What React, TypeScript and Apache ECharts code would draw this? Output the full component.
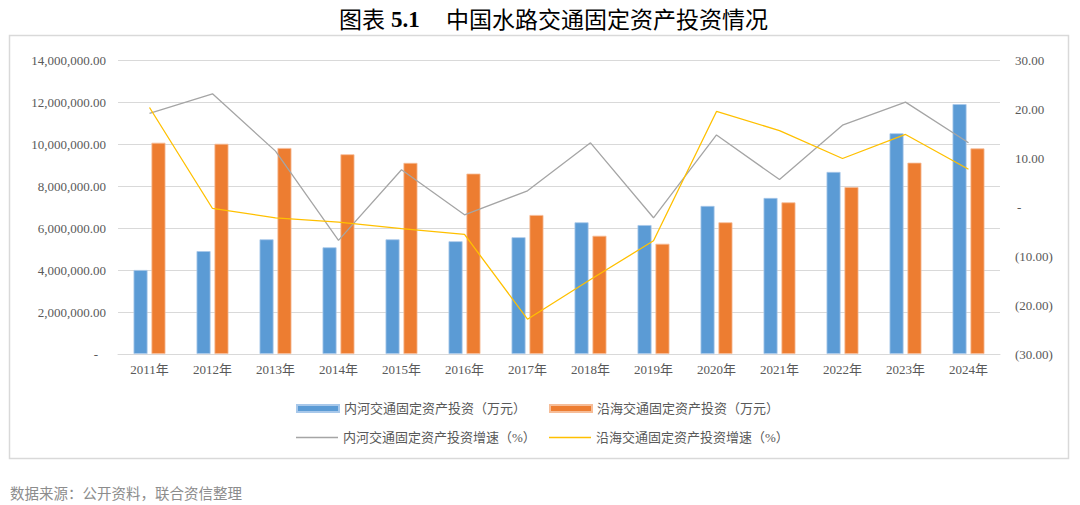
import React, { useEffect, useRef } from "react";
import * as echarts from "echarts";

// Categories and series values
const years = ["2011年", "2012年", "2013年", "2014年", "2015年", "2016年", "2017年", "2018年", "2019年", "2020年", "2021年", "2022年", "2023年", "2024年"];
const inlandInvest = [4000000, 4900000, 5460000, 5080000, 5460000, 5370000, 5560000, 6270000, 6140000, 7050000, 7430000, 8670000, 10510000, 11900000];
const coastalInvest = [10060000, 10010000, 9810000, 9510000, 9100000, 8590000, 6620000, 5630000, 5250000, 6270000, 7220000, 7950000, 9110000, 9790000];
const inlandGrowth = [19.1, 23.1, 11.4, -6.8, 7.6, -1.6, 3.3, 13.1, -2.2, 14.7, 5.6, 16.7, 21.4, 13.1];
const coastalGrowth = [20.3, -0.3, -2.2, -3.1, -4.4, -5.6, -22.9, -14.8, -6.9, 19.5, 15.6, 9.9, 14.8, 7.7];

const seriesNames = [
  "内河交通固定资产投资（万元）",
  "沿海交通固定资产投资（万元）",
  "内河交通固定资产投资增速（%）",
  "沿海交通固定资产投资增速（%）",
];

const FONT = "'Liberation Serif', 'Noto Sans CJK SC', serif";
const CJK = "'Noto Sans CJK SC', sans-serif";
const LABEL = "#595959";
const GRID = "#d9d9d9";

export default function App() {
  const ref = useRef<HTMLDivElement>(null);

  useEffect(() => {
    if (!ref.current) return;
    const chart = echarts.init(ref.current, null, { renderer: "svg" });

    const legendBase = {
      itemWidth: 42,
      textStyle: { color: LABEL, fontSize: 13, fontFamily: FONT },
      itemGap: 5,
    };

    chart.setOption({
      animation: false,
      backgroundColor: "#ffffff",
      textStyle: { fontFamily: FONT },
      grid: { left: 118, right: 80, top: 60, bottom: 151, containLabel: false },
      legend: [
        { ...legendBase, itemHeight: 7, left: 291, top: 397, data: [{ name: seriesNames[0], icon: "rect" }] },
        { ...legendBase, itemHeight: 7, left: 544, top: 397, data: [{ name: seriesNames[1], icon: "rect" }] },
        { ...legendBase, itemHeight: 1.5, left: 291, top: 426, data: [{ name: seriesNames[2], icon: "rect" }] },
        { ...legendBase, itemHeight: 1.5, left: 544, top: 426, data: [{ name: seriesNames[3], icon: "rect" }] },
      ],
      xAxis: {
        type: "category",
        data: years,
        axisLine: { lineStyle: { color: GRID, width: 1 } },
        axisTick: { show: false },
        axisLabel: { color: LABEL, fontSize: 13, margin: 9, fontFamily: FONT },
      },
      yAxis: [
        {
          type: "value",
          min: 0,
          max: 14000000,
          interval: 2000000,
          axisLine: { show: false },
          axisTick: { show: false },
          splitLine: { lineStyle: { color: GRID, width: 1 } },
          axisLabel: {
            color: LABEL,
            fontSize: 13,
            margin: 12,
            fontFamily: FONT,
            formatter: (v: number) =>
              v === 0
                ? "{d|-}"
                : v.toLocaleString("en-US", { minimumFractionDigits: 2, maximumFractionDigits: 2 }),
            rich: { d: { color: LABEL, fontSize: 13, fontFamily: FONT, padding: [0, 8, 0, 0] } },
          },
        },
        {
          type: "value",
          min: -30,
          max: 30,
          interval: 10,
          axisLine: { show: false },
          axisTick: { show: false },
          splitLine: { show: false },
          axisLabel: {
            color: LABEL,
            fontSize: 13,
            margin: 15,
            fontFamily: FONT,
            formatter: (v: number) =>
              v === 0 ? "{d|-}" : v < 0 ? `(${Math.abs(v).toFixed(2)})` : v.toFixed(2),
            rich: { d: { color: LABEL, fontSize: 13, fontFamily: FONT, padding: [0, 0, 0, 2] } },
          },
        },
      ],
      series: [
        {
          name: seriesNames[0],
          type: "bar",
          data: inlandInvest,
          barWidth: 14,
          barGap: "28%",
          itemStyle: { color: "#5b9bd5", borderColor: "#a8c8ea", borderWidth: 0.8 },
        },
        {
          name: seriesNames[1],
          type: "bar",
          data: coastalInvest,
          barWidth: 14,
          barGap: "28%",
          itemStyle: { color: "#ed7d31", borderColor: "#f6bd98", borderWidth: 0.8 },
        },
        {
          name: seriesNames[2],
          type: "line",
          yAxisIndex: 1,
          data: inlandGrowth,
          symbol: "none",
          lineStyle: { color: "#a5a5a5", width: 1.3 },
          itemStyle: { color: "#a5a5a5" },
        },
        {
          name: seriesNames[3],
          type: "line",
          yAxisIndex: 1,
          data: coastalGrowth,
          symbol: "none",
          lineStyle: { color: "#ffc000", width: 1.3 },
          itemStyle: { color: "#ffc000" },
        },
      ],
      graphic: [
        {
          type: "rect",
          z: -10,
          shape: { x: 9.5, y: 35.5, width: 1059, height: 423 },
          style: { fill: "none", stroke: GRID, lineWidth: 1.5 },
        },
        {
          type: "text",
          x: 339,
          y: 18,
          style: { text: "图表", fontSize: 23, fontFamily: CJK, fill: "#000", verticalAlign: "middle" },
        },
        {
          type: "text",
          x: 391,
          y: 19,
          style: { text: "5.1", fontSize: 23, fontWeight: "bold", fontFamily: "'Liberation Serif', serif", fill: "#000", verticalAlign: "middle" },
        },
        {
          type: "text",
          x: 446,
          y: 18,
          style: { text: "中国水路交通固定资产投资情况", fontSize: 23, fontFamily: CJK, fill: "#000", verticalAlign: "middle" },
        },
        {
          type: "text",
          x: 10,
          y: 492,
          style: { text: "数据来源：公开资料，联合资信整理", fontSize: 14.5, fontFamily: CJK, fill: "#8c8c8c", verticalAlign: "middle" },
        },
      ],
    });

    return () => chart.dispose();
  }, []);

  return (
    <div
      ref={ref}
      style={{ position: "absolute", left: 0, top: 0, width: 1080, height: 505, background: "#fff" }}
    />
  );
}
